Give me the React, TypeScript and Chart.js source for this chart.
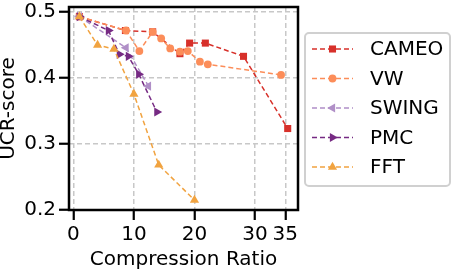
import React, { useEffect, useRef } from "react";
import { Chart, registerables } from "chart.js";

Chart.register(...registerables);

const seriesNames = ["CAMEO", "VW", "SWING", "PMC", "FFT"];
const seriesColors = ["#d7302a", "#fc8d59", "#b08fc7", "#762a83", "#f1a340"];

const cameoX = [1, 8.6, 13.1, 17.6, 19.2, 21.8, 28.1, 35.4];
const cameoY = [0.492, 0.471, 0.469, 0.436, 0.452, 0.452, 0.432, 0.323];
const vwX = [1, 8.7, 10.9, 13.1, 14.5, 16.0, 17.6, 18.9, 20.9, 22.2, 34.3];
const vwY = [0.492, 0.471, 0.44, 0.469, 0.459, 0.444, 0.439, 0.44, 0.424, 0.42, 0.404];
const swingX = [1, 8.7, 12.4];
const swingY = [0.492, 0.445, 0.387];
const pmcX = [1, 5.8, 7.6, 9.1, 10.8, 13.8];
const pmcY = [0.492, 0.471, 0.435, 0.432, 0.405, 0.348];
const fftX = [1, 4.0, 6.7, 10.0, 14.1, 20.0];
const fftY = [0.492, 0.449, 0.443, 0.375, 0.268, 0.215];

const xTicks = [0, 10, 20, 30, 35];
const yTicks = [0.2, 0.3, 0.4, 0.5];

const FONT = "'DejaVu Sans', sans-serif";

const markerStyles: any[] = ["rect", "circle", "triangle", "triangle", "triangle"];
const markerRot = [0, 0, -90, 90, 0];
const markerRadius = [5, 3.9, 5.3, 5.3, 5.3];

function drawMarker(ctx: CanvasRenderingContext2D, i: number, x: number, y: number) {
  const r = markerRadius[i];
  ctx.save();
  ctx.setLineDash([]);
  ctx.fillStyle = seriesColors[i];
  ctx.beginPath();
  if (markerStyles[i] === "rect") {
    const s = r * Math.SQRT1_2;
    ctx.rect(x - s, y - s, 2 * s, 2 * s);
  } else if (markerStyles[i] === "circle") {
    ctx.arc(x, y, r, 0, Math.PI * 2);
  } else {
    let rad = (markerRot[i] * Math.PI) / 180;
    ctx.moveTo(x + Math.sin(rad) * r, y - Math.cos(rad) * r);
    rad += (2 * Math.PI) / 3;
    ctx.lineTo(x + Math.sin(rad) * r, y - Math.cos(rad) * r);
    rad += (2 * Math.PI) / 3;
    ctx.lineTo(x + Math.sin(rad) * r, y - Math.cos(rad) * r);
    ctx.closePath();
  }
  ctx.fill();
  ctx.restore();
}

const framePlugin = {
  id: "frameLegend",
  afterDraw(chart: any) {
    const ctx = chart.ctx as CanvasRenderingContext2D;
    const a = chart.chartArea;
    ctx.save();
    ctx.strokeStyle = "#000";
    ctx.lineWidth = 2.5;
    ctx.setLineDash([]);
    ctx.strokeRect(a.left, a.top, a.right - a.left, a.bottom - a.top);

    // legend box
    const bx = 305, by = 33, bw = 145, bh = 153, br = 4;
    ctx.beginPath();
    ctx.moveTo(bx + br, by);
    ctx.arcTo(bx + bw, by, bx + bw, by + bh, br);
    ctx.arcTo(bx + bw, by + bh, bx, by + bh, br);
    ctx.arcTo(bx, by + bh, bx, by, br);
    ctx.arcTo(bx, by, bx + bw, by, br);
    ctx.closePath();
    ctx.fillStyle = "rgba(255,255,255,0.8)";
    ctx.fill();
    ctx.strokeStyle = "#d0d0d0";
    ctx.lineWidth = 2;
    ctx.stroke();

    for (let i = 0; i < seriesNames.length; i++) {
      const cy = 49 + i * 29.5;
      ctx.strokeStyle = seriesColors[i];
      ctx.lineWidth = 1.5;
      ctx.setLineDash([5, 3]);
      ctx.beginPath();
      ctx.moveTo(312, cy);
      ctx.lineTo(353, cy);
      ctx.stroke();
      drawMarker(ctx, i, 332.5, cy);
      ctx.fillStyle = "#000";
      ctx.font = `20px ${FONT}`;
      ctx.textBaseline = "middle";
      ctx.textAlign = "left";
      ctx.fillText(seriesNames[i], 370, cy + 1);
    }
    ctx.restore();
  },
};

export default function App() {
  const ref = useRef<HTMLCanvasElement | null>(null);
  useEffect(() => {
    if (!ref.current) return;
    const xs = [cameoX, vwX, swingX, pmcX, fftX];
    const ys = [cameoY, vwY, swingY, pmcY, fftY];
    const datasets = seriesNames.map((name, i) => ({
      label: name,
      data: xs[i].map((x, j) => ({ x, y: ys[i][j] })),
      borderColor: seriesColors[i],
      backgroundColor: seriesColors[i],
      borderWidth: 1.5,
      borderDash: [5, 3],
      pointStyle: markerStyles[i],
      pointRotation: markerRot[i],
      pointRadius: markerRadius[i],
      pointHoverRadius: markerRadius[i],
      pointBorderWidth: 0,
      pointBackgroundColor: seriesColors[i],
      showLine: true,
      fill: false,
      tension: 0,
      order: seriesNames.length - i,
    }));
    const chart = new Chart(ref.current, {
      type: "scatter",
      data: { datasets },
      plugins: [framePlugin],
      options: {
        animation: false,
        responsive: false,
        events: [],
        layout: { padding: { left: 0, right: 156, top: 7, bottom: 0 } },
        plugins: { legend: { display: false }, tooltip: { enabled: false } },
        scales: {
          x: {
            type: "linear",
            min: -0.72,
            max: 37.1,
            afterBuildTicks: (s: any) => {
              s.ticks = xTicks.map((v) => ({ value: v }));
            },
            afterFit: (s: any) => {
              s.height = 61;
              s.paddingLeft = 0;
              s.paddingRight = 0;
            },
            ticks: {
              autoSkip: false,
              maxRotation: 0,
              padding: 3,
              color: "#000",
              font: { family: FONT, size: 20 },
              callback: (v: any) => String(v),
            },
            grid: {
              color: "#c8c8c8",
              lineWidth: 1.5,
              borderDash: [5, 3],
              tickColor: "#000",
              tickWidth: 2.2,
              tickLength: 10,
              tickBorderDash: [],
            } as any,
            border: { display: false, dash: [5, 3] },
            title: {
              display: true,
              text: "Compression Ratio",
              color: "#000",
              font: { family: FONT, size: 20, lineHeight: 1 },
              padding: { top: 0, bottom: 1 },
            },
          },
          y: {
            type: "linear",
            min: 0.2,
            max: 0.5065,
            afterBuildTicks: (s: any) => {
              s.ticks = yTicks.map((v) => ({ value: v }));
            },
            afterFit: (s: any) => {
              s.width = 69;
              s.paddingTop = 0;
              s.paddingBottom = 0;
            },
            ticks: {
              padding: 3,
              color: "#000",
              font: { family: FONT, size: 20 },
              callback: (v: any) => Number(v).toFixed(1),
            },
            grid: {
              color: "#c8c8c8",
              lineWidth: 1.5,
              borderDash: [5, 3],
              tickColor: "#000",
              tickWidth: 2.2,
              tickLength: 10,
              tickBorderDash: [],
            } as any,
            border: { display: false, dash: [5, 3] },
            title: {
              display: true,
              text: "UCR-score",
              color: "#000",
              font: { family: FONT, size: 20, lineHeight: 1 },
              padding: { top: -1.5, bottom: 0 },
            },
          },
        },
      } as any,
    });
    return () => chart.destroy();
  }, []);
  return (
    <div style={{ position: "fixed", left: 0, top: 0, width: 454, height: 271, background: "#fff" }}>
      <canvas ref={ref} width={454} height={271} style={{ display: "block", width: 454, height: 271 }} />
    </div>
  );
}
